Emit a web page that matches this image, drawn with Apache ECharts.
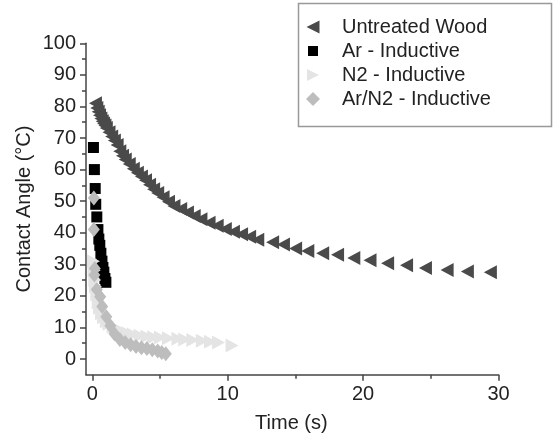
<!DOCTYPE html>
<html>
<head>
<meta charset="utf-8">
<script src="https://cdn.jsdelivr.net/npm/echarts@6/dist/echarts.min.js"></script>
<style>html,body{margin:0;padding:0;background:#fff}#c{width:560px;height:441px}</style>
</head>
<body>
<div id="c"></div>
<script>
// ---- data ----
var seriesNames = ['Untreated Wood', 'Ar - Inductive', 'N2 - Inductive', 'Ar/N2 - Inductive'];
var xTickLabels = [0, 10, 20, 30];
var yTickLabels = [0, 10, 20, 30, 40, 50, 60, 70, 80, 90, 100];

var untreatedTime = [0.2,0.3,0.4,0.5,0.6,0.7,0.8,0.9,1.0,1.2,1.4,1.6,1.8,2.0,2.2,2.4,2.7,3.0,3.3,3.6,3.9,4.2,4.5,4.8,5.2,5.6,6.0,6.5,7.0,7.5,8.0,8.6,9.2,9.8,10.4,11.0,11.6,12.2,13.3,14.1,15.0,15.9,17.0,18.1,19.3,20.5,21.8,23.2,24.6,26.2,27.7,29.4];
var untreatedAngle = [81,79.5,78.3,77.2,76.2,75.3,74.6,74,73.2,71.8,70.5,69.2,67.8,65.8,64.4,63.2,61.8,60.3,59,57.8,56.6,55.2,53.8,52.6,51.2,49.8,48.5,47.5,46.4,45.3,44.3,43.2,42.2,41.2,40.3,39.5,38.7,37.8,37.0,36.3,35.0,34.2,33.5,33.0,32.0,31.3,30.3,29.7,28.8,28.2,27.7,27.5];

var arTime = [0.05,0.12,0.18,0.22,0.3,0.38,0.45,0.52,0.6,0.68,0.75,0.82,0.9,0.97];
var arAngle = [67,60,54,49,45,41,38,36,33.5,31,29,27.5,25.5,24.3];

var n2Time = [0.05,0.1,0.15,0.2,0.3,0.4,0.5,0.65,0.8,1.0,1.2,1.5,1.8,2.2,2.6,3.0,3.5,4.0,4.5,5.0,5.6,6.3,6.8,7.4,8.1,8.7,9.3,10.3];
var n2Angle = [31,28,25,23,20.5,18,16.2,14.5,13.2,12,11.2,10.2,9.5,8.8,8.2,7.8,7.4,7.1,6.9,6.8,6.6,6.4,6.2,6.0,5.8,5.5,5.2,4.3];

var arn2Time = [0.08,0.08,0.15,0.12,0.3,0.55,0.7,1.0,1.3,1.6,2.0,2.4,2.8,3.2,3.6,4.0,4.4,4.8,5.1,5.4];
var arn2Angle = [51,41,28.7,26.6,22,19.7,16.6,13.4,10.5,8.0,6.2,5.2,4.5,4.0,3.6,3.3,2.9,2.5,2.1,1.7];

function pairs(xs, ys) { return xs.map(function (x, i) { return [x, ys[i]]; }); }

var FONT = 'Liberation Sans, Arial, sans-serif';
var AXC = '#444';
var TXT = '#222';
var FS = 20;
var triLeft = 'path://M0,5L10,0L10,10Z';
var triRight = 'path://M10,5L0,0L0,10Z';

var symbols = [triLeft, 'rect', triRight, 'diamond'];
var colors = ['#4a4a4a', '#000000', '#e4e4e4', '#bdbdbd'];
var sizes = [[13, 14], [11, 11], [13, 14], [12, 15]];
var dataSets = [pairs(untreatedTime, untreatedAngle), pairs(arTime, arAngle), pairs(n2Time, n2Angle), pairs(arn2Time, arn2Angle)];

var legendIcon = [[13, 15], [10, 10], [12, 13], [14, 14]];
var legendRowTop = [27, 51, 75, 99];

var chart = echarts.init(document.getElementById('c'), null, { renderer: 'canvas' });

var series = seriesNames.map(function (n, i) {
  return {
    name: n, type: 'scatter', xAxisIndex: 0, yAxisIndex: 0,
    symbol: symbols[i], symbolSize: sizes[i],
    itemStyle: { color: colors[i], opacity: 1 },
    data: dataSets[i], z: 2 + i, silent: true, animation: false
  };
});

var legends = seriesNames.map(function (n, i) {
  var w = legendIcon[i][0], h = legendIcon[i][1];
  var left = 313 - w / 2;
  var txtPad = 342 - (left + w + 5);
  return {
    data: [n], left: left, top: legendRowTop[i] - 11, padding: 0,
    itemWidth: w, itemHeight: h, orient: 'vertical',
    textStyle: { fontFamily: FONT, fontSize: FS, color: TXT, lineHeight: 22, padding: [0, 0, 0, txtPad] },
    selectedMode: false
  };
});

var option = {
  backgroundColor: '#ffffff',
  animation: false,
  legend: legends,
  graphic: [{
    type: 'rect', shape: { x: 298.5, y: 3.5, width: 253, height: 123 },
    style: { fill: 'none', stroke: '#999', lineWidth: 1.5 }, z: 100
  }],
  grid: [
    { left: 86, right: 61.5, top: 43.3, bottom: 66.2 },
    { left: 92.3, right: 61.5, top: 43.3, bottom: 66.2 },
    { left: 86, right: 61.5, top: 43.3, bottom: 82 }
  ],
  xAxis: [
    { gridIndex: 0, type: 'value', min: -0.5, max: 30,
      axisLine: { show: true, onZero: false, lineStyle: { color: AXC, width: 1.5 } },
      axisTick: { show: false }, axisLabel: { show: false }, splitLine: { show: false } },
    { gridIndex: 1, type: 'value', min: xTickLabels[0], max: xTickLabels[xTickLabels.length - 1], interval: 10,
      name: 'Time (s)', nameLocation: 'middle', nameGap: 39,
      nameTextStyle: { fontFamily: FONT, fontSize: FS, color: TXT, padding: [0, 8, 0, 0] },
      axisLine: { show: false, onZero: false },
      axisTick: { show: true, length: 6, lineStyle: { color: AXC, width: 1.5 } },
      minorTick: { show: true, splitNumber: 2, length: 4, lineStyle: { color: AXC, width: 1.5 } },
      axisLabel: { fontFamily: FONT, fontSize: FS, color: TXT, margin: 10 },
      splitLine: { show: false }, minorSplitLine: { show: false } },
    { gridIndex: 2, type: 'value', min: -0.5, max: 30, show: false }
  ],
  yAxis: [
    { gridIndex: 0, type: 'value', min: -5, max: 100,
      name: 'Contact Angle (°C)', nameLocation: 'middle', nameGap: 52,
      nameTextStyle: { fontFamily: FONT, fontSize: FS, color: TXT },
      axisLine: { show: true, onZero: false, lineStyle: { color: AXC, width: 1.5 } },
      axisTick: { show: false }, axisLabel: { show: false }, splitLine: { show: false } },
    { gridIndex: 1, type: 'value', min: -5, max: 100, show: false },
    { gridIndex: 2, type: 'value', min: yTickLabels[0], max: yTickLabels[yTickLabels.length - 1], interval: 10,
      axisLine: { show: false, onZero: false },
      axisTick: { show: true, length: 6, lineStyle: { color: AXC, width: 1.5 } },
      minorTick: { show: true, splitNumber: 2, length: 4, lineStyle: { color: AXC, width: 1.5 } },
      axisLabel: { fontFamily: FONT, fontSize: FS, color: TXT, margin: 10 },
      splitLine: { show: false }, minorSplitLine: { show: false } }
  ],
  series: series
};
chart.setOption(option);
</script>
</body>
</html>
